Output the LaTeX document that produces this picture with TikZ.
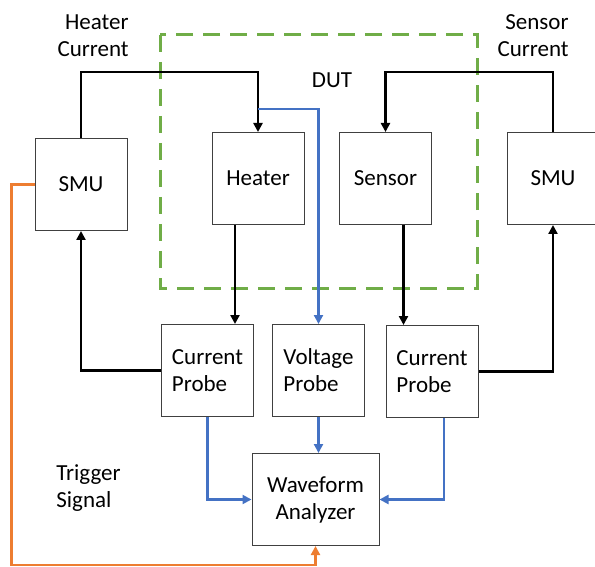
\documentclass[tikz,border=0pt]{standalone}
\usepackage{fontspec}
\setmainfont{Carlito}
\usepackage{xcolor}
\usetikzlibrary{arrows.meta,positioning,calc}

\definecolor{dutgreen}{HTML}{70AD47}
\definecolor{sigblue}{HTML}{4472C4}
\definecolor{trigorange}{HTML}{ED7D31}

\begin{document}
\begin{tikzpicture}[
    x=0.5pt, y=-0.5pt,
    font=\fontsize{11.5}{13.5}\selectfont,
    blk/.style={rectangle, draw=black!75, line width=0.5pt, minimum width=46pt, minimum height=46pt, inner sep=2pt, fill=white},
    wire/.style={line width=1.4pt, -{Triangle[length=4.5pt,width=4.5pt]}},
    sig/.style={line width=1.1pt, draw=sigblue, -{Triangle[length=4.5pt,width=4.5pt]}},
    trig/.style={line width=1.1pt, draw=trigorange, -{Triangle[length=4.5pt,width=4.5pt]}},
    dutbox/.style={draw=dutgreen, line width=1.5pt, dash pattern=on 8.5pt off 5pt},
    lbl/.style={inner sep=0pt},
]
\useasboundingbox (0,0) rectangle (595,567);
% DUT frame
\draw[dutbox] (160,35) rectangle (477,288);
\node[lbl] (dut) at (332,80) {DUT};
% Nodes
\node[blk]              (smuL)   at (81,184.5)    {SMU};
\node[blk]              (heater) at (258,178.5)   {Heater};
\node[blk]              (sensor) at (385.5,178.5) {Sensor};
\node[blk]              (smuR)   at (553,178.5)   {SMU};
\node[blk, align=left]  (cpL)    at (207.5,370.5) {Current\\Probe};
\node[blk, align=left]  (vprobe) at (318.5,370.5) {Voltage\\Probe};
\node[blk, align=left]  (cpR)    at (432,371.5)   {Current\\Probe};
\node[blk, minimum width=63.5pt, align=center] (wave) at (315.5,499.5) {Waveform\\Analyzer};
% Labels
\node[lbl, align=right, anchor=east] (hcur) at (129,35.5) {Heater\\Current};
\node[lbl, align=right, anchor=east] (scur) at (569,35.5) {Sensor\\Current};
\node[lbl, align=left, anchor=west]  (trg)  at (56,488)   {Trigger\\Signal};
% Connections
\draw[wire] (smuL.north) -- ++(0,-66) -| (heater.north);
\draw[wire] (smuR.north) -- ++(0,-60) -| (sensor.north);
\draw[sig] ([yshift=11.5pt]heater.north) -| (vprobe.north);
\draw[wire] ([xshift=-11.5pt]heater.south) -- ([xshift=-11.5pt]heater.south |- cpL.north);
\draw[wire] ([xshift=9pt]sensor.south) -- ([xshift=9pt]sensor.south |- cpR.north);
\draw[wire] (cpL.west) -| (smuL.south);
\draw[wire] (cpR.east) -| (smuR.south);
\draw[sig] (cpL.south) |- (wave.west);
\draw[sig] (vprobe.south) -- (vprobe.south |- wave.north);
\draw[sig] ([xshift=6pt]cpR.south) |- (wave.east);
% Trigger line
\draw[trig] (smuL.west) -- ++(-23,0) |- ([yshift=-9.5pt]wave.south) -- (wave.south);
\end{tikzpicture}
\end{document}
